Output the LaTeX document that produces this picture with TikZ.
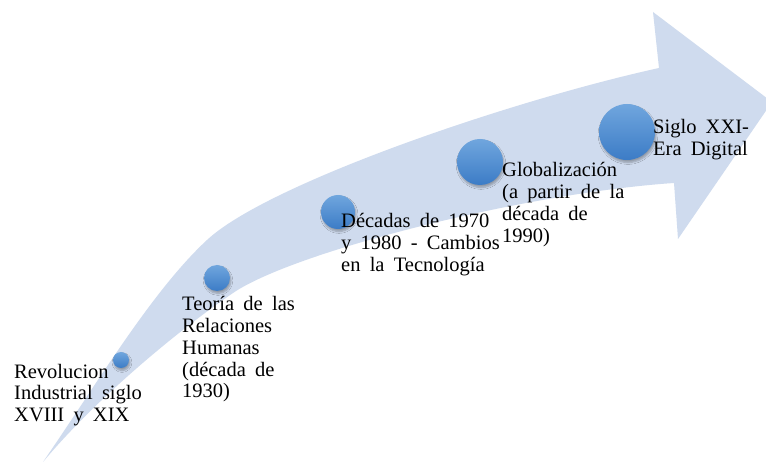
\documentclass[tikz,border=0pt]{standalone}
\usepackage{fontspec}
\setmainfont[WordSpace=1.8]{Liberation Serif}
\usetikzlibrary{shadows.blur}
\definecolor{bandfill}{RGB}{207,219,238}
\definecolor{ctop}{RGB}{112,166,222}
\definecolor{cbot}{RGB}{60,124,198}
\tikzset{
  dot/.style={circle, inner sep=0pt, top color=ctop, bottom color=cbot, draw=none,
    blur shadow={shadow xshift=1pt, shadow yshift=-2.5pt, shadow opacity=30, shadow blur steps=6}},
  lbl/.style={anchor=base west, inner sep=0pt, font=\fontsize{20.5}{21.7}\selectfont}
}
\newcommand{\lines}[1]{\begin{tabular}[t]{@{}l@{}}#1\end{tabular}}
\begin{document}
\begin{tikzpicture}[x=1pt,y=-1pt]
\useasboundingbox (0,0) rectangle (766,462);
\begin{scope}
\clip (0,0) rectangle (766,462);
\fill[white] (0,0) rectangle (766,462);
\fill[bandfill] (43,462) .. controls (98,382) and (152,291) .. (207,240)
  .. controls (267,184) and (509,101) .. (659,68)
  -- (653,12) -- (772,102) -- (678,239) -- (674,183)
  .. controls (524,193) and (293,252) .. (233,293)
  .. controls (173,334) and (93,402) .. (43,462)
  -- cycle;
\end{scope}
\node[dot, minimum size=16pt] (c1) at (121,360) {};
\node[dot, minimum size=26pt] (c2) at (217,278) {};
\node[dot, minimum size=34pt] (c3) at (338,212) {};
\node[dot, minimum size=46pt] (c4) at (480,162) {};
\node[dot, minimum size=56pt] (c5) at (627,132) {};
\node[lbl] (t1) at (14,378) {\lines{Revolucion\\Industrial siglo\\XVIII y XIX}};
\node[lbl] (t2) at (182,311) {\lines{Teoría de las\\Relaciones\\Humanas\\(década de\\1930)}};
\node[lbl] (t3) at (341,228) {\lines{Décadas de 1970\\y 1980 - Cambios\\en la Tecnología}};
\node[lbl] (t4) at (502,177) {\lines{Globalización\\(a partir de la\\década de\\1990)}};
\node[lbl] (t5) at (653,134) {\lines{Siglo XXI-\\Era Digital}};
\end{tikzpicture}
\end{document}
